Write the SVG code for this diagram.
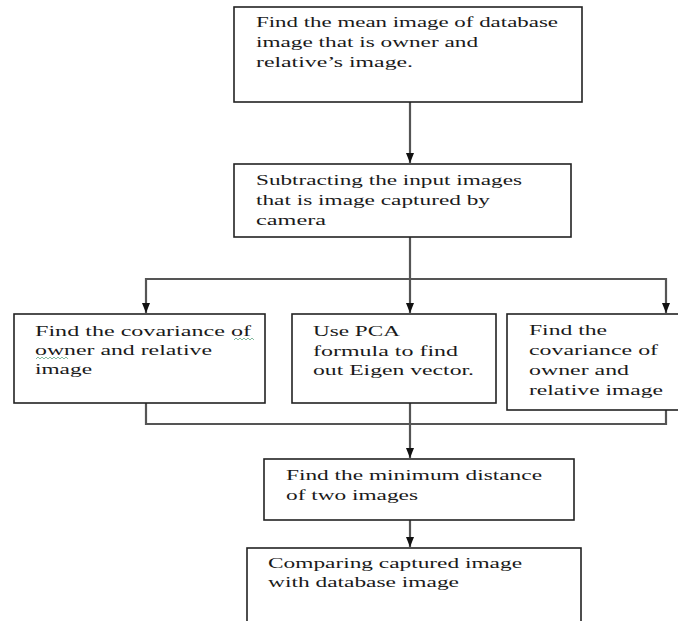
<svg xmlns="http://www.w3.org/2000/svg" width="678" height="621" viewBox="0 0 678 621">
<defs>
<marker id="ah" viewBox="0 0 10 8" refX="10" refY="4" markerWidth="10" markerHeight="8" markerUnits="userSpaceOnUse" orient="auto">
<path d="M0,0 L10,4 L0,8 Z" fill="#111"/>
</marker>
</defs>
<style>
.box{fill:#fff;stroke:#222;stroke-width:1.6}
.t{font-family:"Liberation Serif","Times New Roman",serif;font-size:14.5px;fill:#1a1a1a}
.c{fill:none;stroke:#555;stroke-width:2.2}
.sq{fill:none;stroke:#6a8;stroke-width:0.8}
</style>
<rect width="678" height="621" fill="#fff"/>
<g id="connectors">
<line class="c" x1="410" y1="102" x2="410" y2="163" marker-end="url(#ah)"/>
<line class="c" x1="410" y1="237" x2="410" y2="279"/>
<polyline class="c" points="146,279 666,279 666,313" marker-end="url(#ah)"/>
<line class="c" x1="146" y1="278" x2="146" y2="313" marker-end="url(#ah)"/>
<line class="c" x1="410" y1="279" x2="410" y2="313" marker-end="url(#ah)"/>
<polyline class="c" points="146,403 146,424 666,424 666,410"/>
<line class="c" x1="410" y1="403" x2="410" y2="458" marker-end="url(#ah)"/>
<line class="c" x1="410" y1="520" x2="410" y2="547" marker-end="url(#ah)"/>
</g>
<g id="n1">
<rect class="box" x="234" y="7" width="348" height="95"/>
<text class="t" x="256" y="27" textLength="302" lengthAdjust="spacingAndGlyphs">Find the mean image of database</text>
<text class="t" x="256" y="47" textLength="222" lengthAdjust="spacingAndGlyphs">image that is owner and</text>
<text class="t" x="256" y="67" textLength="157" lengthAdjust="spacingAndGlyphs">relative’s image.</text>
</g>
<g id="n2">
<rect class="box" x="234" y="164" width="337" height="73"/>
<text class="t" x="256" y="185" textLength="266" lengthAdjust="spacingAndGlyphs">Subtracting the input images</text>
<text class="t" x="256" y="205" textLength="234" lengthAdjust="spacingAndGlyphs">that is image captured by</text>
<text class="t" x="256" y="225" textLength="70" lengthAdjust="spacingAndGlyphs">camera</text>
</g>
<g id="n3">
<rect class="box" x="14" y="314" width="251" height="89"/>
<text class="t" x="35" y="336" textLength="216" lengthAdjust="spacingAndGlyphs">Find the covariance of</text>
<text class="t" x="35" y="355" textLength="177" lengthAdjust="spacingAndGlyphs">owner and relative</text>
<text class="t" x="35" y="374" textLength="57" lengthAdjust="spacingAndGlyphs">image</text>
<path class="sq" d="M234,340 l2,-2 l2,2 l2,-2 l2,2 l2,-2 l2,2 l2,-2 l2,2 l2,-2 l2,2 M36,359 l2,-2 l2,2 l2,-2 l2,2 l2,-2 l2,2 l2,-2 l2,2 l2,-2 l2,2 l2,-2 l2,2 l2,-2 l2,2 l2,-2 l2,2"/>
</g>
<g id="n4">
<rect class="box" x="292" y="314" width="204" height="89"/>
<text class="t" x="313" y="336" textLength="87" lengthAdjust="spacingAndGlyphs">Use PCA</text>
<text class="t" x="313" y="356" textLength="145" lengthAdjust="spacingAndGlyphs">formula to find</text>
<text class="t" x="313" y="375" textLength="161" lengthAdjust="spacingAndGlyphs">out Eigen vector.</text>
</g>
<g id="n5">
<rect class="box" x="507" y="314" width="172" height="96"/>
<text class="t" x="529" y="335" textLength="78" lengthAdjust="spacingAndGlyphs">Find the</text>
<text class="t" x="529" y="355" textLength="129" lengthAdjust="spacingAndGlyphs">covariance of</text>
<text class="t" x="529" y="375" textLength="100" lengthAdjust="spacingAndGlyphs">owner and</text>
<text class="t" x="529" y="395" textLength="134" lengthAdjust="spacingAndGlyphs">relative image</text>
</g>
<g id="n6">
<rect class="box" x="264" y="459" width="310" height="61"/>
<text class="t" x="286" y="480" textLength="256" lengthAdjust="spacingAndGlyphs">Find the minimum distance</text>
<text class="t" x="286" y="500" textLength="132" lengthAdjust="spacingAndGlyphs">of two images</text>
</g>
<g id="n7">
<rect class="box" x="247" y="548" width="334" height="90"/>
<text class="t" x="268" y="568" textLength="254" lengthAdjust="spacingAndGlyphs">Comparing captured image</text>
<text class="t" x="268" y="587" textLength="191" lengthAdjust="spacingAndGlyphs">with database image</text>
</g>
</svg>
